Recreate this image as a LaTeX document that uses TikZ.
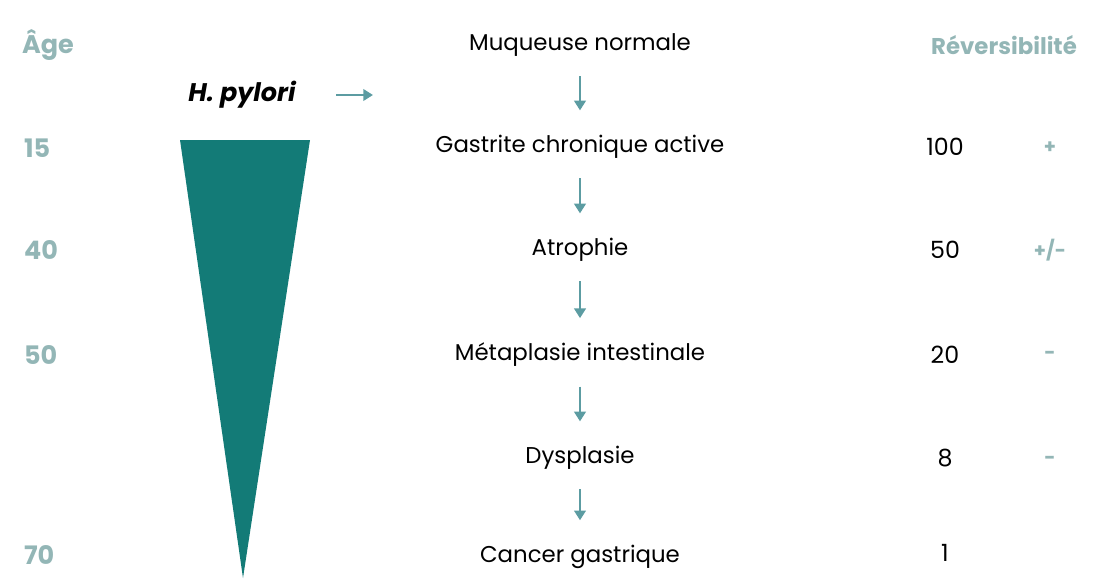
\documentclass[tikz,border=0pt]{standalone}
\usepackage{fontspec}
\setmainfont{Poppins}
\usetikzlibrary{arrows.meta}
\definecolor{tealdark}{HTML}{137B77}
\definecolor{tealarrow}{HTML}{5C9CA2}
\definecolor{greyteal}{HTML}{93B6B6}
\tikzset{
  stage/.style={font=\fontsize{13}{15}\selectfont, inner sep=1pt},
  head/.style={font=\fontsize{14.5}{17}\selectfont\bfseries, text=greyteal, inner sep=1pt},
  num/.style={font=\fontsize{13.5}{15}\selectfont, inner sep=1pt},
  sign/.style={font=\fontsize{11}{13}\selectfont\bfseries, text=greyteal, inner sep=1pt},
  flow/.style={draw=tealarrow, line width=1.4pt, -{Triangle[length=5.5pt,width=6.5pt]}, shorten <=10pt, shorten >=13pt}
}
\begin{document}
\begin{tikzpicture}[x=0.02cm, y=-0.02cm]
\useasboundingbox (0,0) rectangle (1093,582);
% Headers
\node[head, anchor=west] (age) at (20,45) {Âge};
\node[head, font=\fontsize{13}{15}\selectfont\bfseries] (rev) at (1004,45) {Réversibilité};
% Ages
\node[head, anchor=west] (a15) at (22,148) {15};
\node[head, anchor=west] (a40) at (22,250) {40};
\node[head, anchor=west] (a50) at (22,355) {50};
\node[head, anchor=west] (a70) at (22,555) {70};
% Risk wedge
\fill[tealdark] (180,140) -- (310,140) -- (243,578) -- cycle;
% H. pylori
\node[font=\fontsize{14.5}{17}\selectfont\bfseries\itshape, inner sep=1pt] (hp) at (242,95) {H. pylori};
\coordinate (hpend) at (373,95);
\draw[flow, shorten <=22pt, shorten >=0pt] (hp.east) -- (hpend);
% Stages
\node[stage] (s0) at (580,45) {Muqueuse normale};
\node[stage] (s1) at (580,147) {Gastrite chronique active};
\node[stage] (s2) at (580,250) {Atrophie};
\node[stage] (s3) at (580,355) {Métaplasie intestinale};
\node[stage] (s4) at (580,458) {Dysplasie};
\node[stage] (s5) at (580,557) {Cancer gastrique};
\foreach \a/\b in {s0/s1, s1/s2, s2/s3, s3/s4, s4/s5}
  \draw[flow] (\a) -- (\b);
% Reversibility
\node[num] (r1) at (945,147) {100};
\node[num] (r2) at (945,250) {50};
\node[num] (r3) at (945,355) {20};
\node[num] (r4) at (945,458) {8};
\node[num] (r5) at (945,553) {1};
\node[sign] (g1) at (1050,148) {+};
\node[sign] (g2) at (1050,250) {+/-};
\node[sign] (g3) at (1050,355) {-};
\node[sign] (g4) at (1050,460) {-};
\end{tikzpicture}
\end{document}
